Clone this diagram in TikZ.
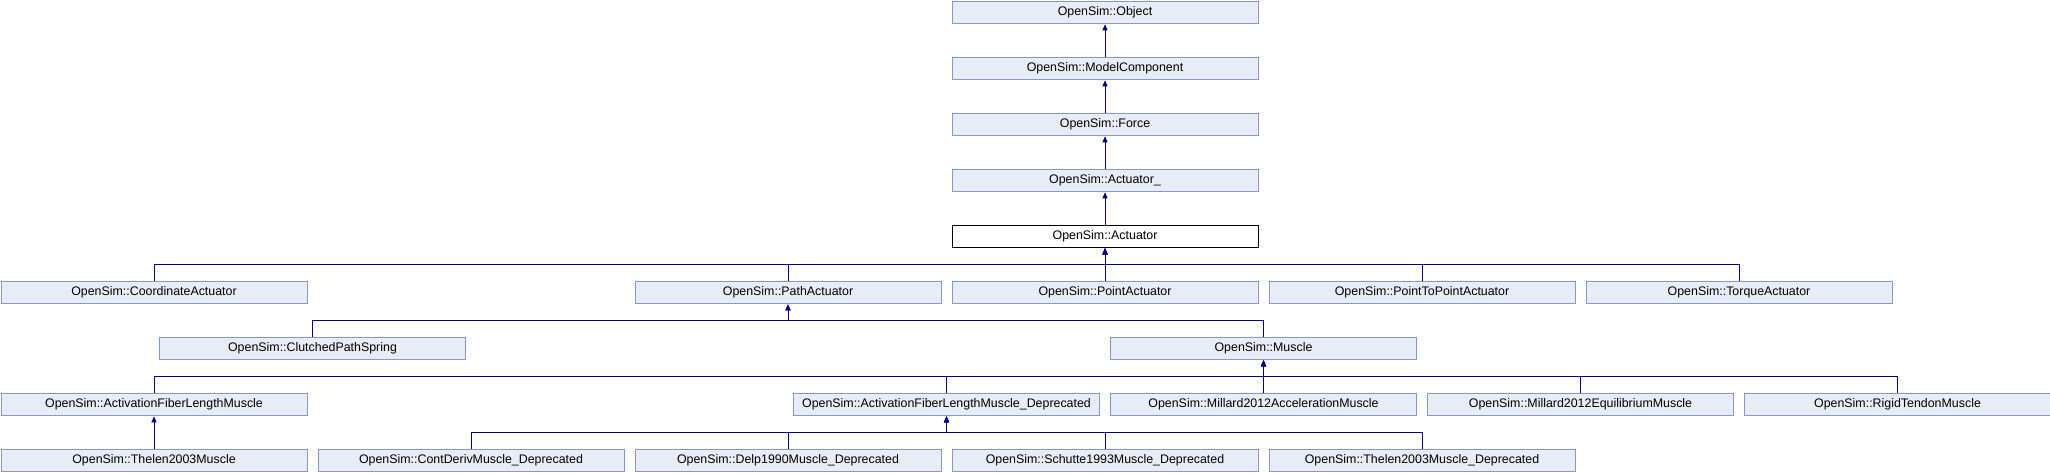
\documentclass[tikz,border=0pt]{standalone}
\usepackage{fontspec}
\setmainfont{Liberation Sans}
\usetikzlibrary{arrows.meta}
\definecolor{boxfill}{HTML}{E8ECF4}
\definecolor{boxline}{HTML}{8499CE}
\definecolor{linkblue}{HTML}{000080}
\begin{document}
\begin{tikzpicture}[x=1pt, y=-1pt,
		cls/.style={draw=boxline, fill=boxfill, line width=1pt, anchor=north west, inner sep=0pt,
			minimum width=306pt, minimum height=22.8pt, font=\fontsize{12.4}{14}\selectfont},
		cur/.style={cls, draw=black, fill=white},
		link/.style={draw=linkblue, line width=1pt, {Triangle[width=5pt,length=6pt]}-}]
		\pgfmathsetmacro{\cw}{317}
		\pgfmathsetmacro{\rh}{56}
		\useasboundingbox (0,0) rectangle (2050,472);
		% chain at the top
		\node[cls] (obj) at ({3*\cw+0.5},0.5) {OpenSim::Object};
		\node[cls] (mcomp) at ({3*\cw+0.5},{\rh+0.5}) {OpenSim::ModelComponent};
		\node[cls] (force) at ({3*\cw+0.5},{2*\rh+0.5}) {OpenSim::Force};
		\node[cls] (actu_) at ({3*\cw+0.5},{3*\rh+0.5}) {OpenSim::Actuator\_};
		\node[cur] (actu) at ({3*\cw+0.5},{4*\rh+0.5}) {OpenSim::Actuator};
		\draw[link] (obj.south) -- (mcomp.north);
		\draw[link] (mcomp.south) -- (force.north);
		\draw[link] (force.south) -- (actu_.north);
		\draw[link] (actu_.south) -- (actu.north);
		% actuators
		\node[cls] (coord) at (0.5,{5*\rh+0.5}) {OpenSim::CoordinateActuator};
		\node[cls] (path) at ({2*\cw+0.5},{5*\rh+0.5}) {OpenSim::PathActuator};
		\node[cls] (point) at ({3*\cw+0.5},{5*\rh+0.5}) {OpenSim::PointActuator};
		\node[cls] (p2p) at ({4*\cw+0.5},{5*\rh+0.5}) {OpenSim::PointToPointActuator};
		\node[cls] (torque) at ({5*\cw+0.5},{5*\rh+0.5}) {OpenSim::TorqueActuator};
		\foreach \c in {coord,path,point,p2p,torque}
			\draw[link] (actu.south) -- (actu.south |- 0,264) -| (\c.north);
		% path actuators
		\node[cls] (clutch) at ({0.5*\cw+0.5},{6*\rh+0.5}) {OpenSim::ClutchedPathSpring};
		\node[cls] (muscle) at ({3.5*\cw+0.5},{6*\rh+0.5}) {OpenSim::Muscle};
		\foreach \c in {clutch,muscle}
			\draw[link] (path.south) -- (path.south |- 0,320) -| (\c.north);
		% muscles
		\node[cls] (afl) at (0.5,{7*\rh+0.5}) {OpenSim::ActivationFiberLengthMuscle};
		\node[cls] (afld) at ({2.5*\cw+0.5},{7*\rh+0.5}) {OpenSim::ActivationFiberLengthMuscle\_Deprecated};
		\node[cls] (macc) at ({3.5*\cw+0.5},{7*\rh+0.5}) {OpenSim::Millard2012AccelerationMuscle};
		\node[cls] (meq) at ({4.5*\cw+0.5},{7*\rh+0.5}) {OpenSim::Millard2012EquilibriumMuscle};
		\node[cls] (rigid) at ({5.5*\cw+0.5},{7*\rh+0.5}) {OpenSim::RigidTendonMuscle};
		\foreach \c in {afl,afld,macc,meq,rigid}
			\draw[link] (muscle.south) -- (muscle.south |- 0,376) -| (\c.north);
		% bottom row
		\node[cls] (thelen) at (0.5,{8*\rh+0.5}) {OpenSim::Thelen2003Muscle};
		\node[cls] (contd) at ({\cw+0.5},{8*\rh+0.5}) {OpenSim::ContDerivMuscle\_Deprecated};
		\node[cls] (delp) at ({2*\cw+0.5},{8*\rh+0.5}) {OpenSim::Delp1990Muscle\_Deprecated};
		\node[cls] (schutte) at ({3*\cw+0.5},{8*\rh+0.5}) {OpenSim::Schutte1993Muscle\_Deprecated};
		\node[cls] (thelend) at ({4*\cw+0.5},{8*\rh+0.5}) {OpenSim::Thelen2003Muscle\_Deprecated};
		\draw[link] (afl.south) -- (thelen.north);
		\foreach \c in {contd,delp,schutte,thelend}
			\draw[link] (afld.south) -- (afld.south |- 0,432) -| (\c.north);
	\end{tikzpicture}
\end{document}
